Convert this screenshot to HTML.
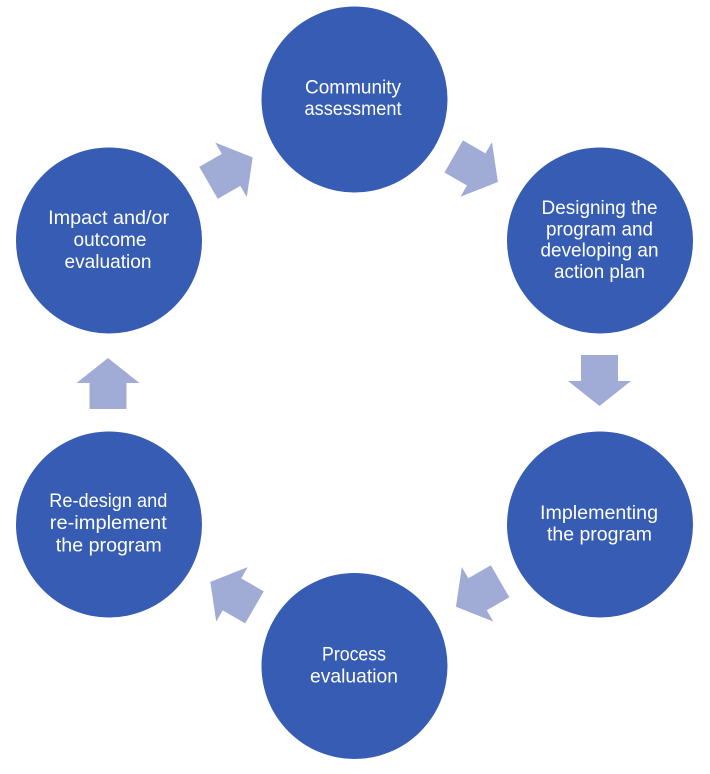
<!DOCTYPE html>
<html>
<head>
<meta charset="utf-8">
<style>
  html, body { margin: 0; padding: 0; background: #ffffff; }
  body { width: 710px; height: 774px; overflow: hidden; }
  svg { display: block; }
  text { font-family: "Liberation Sans", "DejaVu Sans", sans-serif; font-size: 19.5px; fill: #ffffff; }
</style>
</head>
<body>
<svg width="710" height="774" viewBox="0 0 710 774" xmlns="http://www.w3.org/2000/svg">
  <defs>
    <polygon id="arr" points="-25.5,-18.5 0.5,-18.5 0.5,-31.5 25.5,0 0.5,31.5 0.5,18.5 -25.5,18.5" fill="#a1acd6"/>
  </defs>

  <!-- arrows -->
  <use href="#arr" transform="translate(475.8,169.2) rotate(30)"/>
  <use href="#arr" transform="translate(599.5,380.5) rotate(90)"/>
  <use href="#arr" transform="translate(478,594) rotate(150)"/>
  <use href="#arr" transform="translate(232.4,594.6) rotate(210)"/>
  <use href="#arr" transform="translate(108,383.5) rotate(270)"/>
  <use href="#arr" transform="translate(230.6,170.1) rotate(330)"/>

  <!-- circles -->
  <circle cx="354.5" cy="99.5" r="93" fill="#365cb4"/>
  <circle cx="600" cy="240.5" r="93" fill="#365cb4"/>
  <circle cx="600" cy="524.5" r="93" fill="#365cb4"/>
  <circle cx="354.5" cy="666" r="93" fill="#365cb4"/>
  <circle cx="109" cy="524.5" r="93" fill="#365cb4"/>
  <circle cx="109" cy="240.5" r="93" fill="#365cb4"/>

  <!-- labels -->
  <text x="353" y="93.5" text-anchor="middle" textLength="96" lengthAdjust="spacingAndGlyphs">Community</text>
  <text x="353" y="115" text-anchor="middle" textLength="97" lengthAdjust="spacingAndGlyphs">assessment</text>

  <text x="599.5" y="214" text-anchor="middle" textLength="116" lengthAdjust="spacingAndGlyphs">Designing the</text>
  <text x="599.5" y="235.3" text-anchor="middle" textLength="107" lengthAdjust="spacingAndGlyphs">program and</text>
  <text x="599.5" y="256.7" text-anchor="middle" textLength="118" lengthAdjust="spacingAndGlyphs">developing an</text>
  <text x="599.5" y="278" text-anchor="middle" textLength="91" lengthAdjust="spacingAndGlyphs">action plan</text>

  <text x="599" y="519" text-anchor="middle" textLength="118" lengthAdjust="spacingAndGlyphs">Implementing</text>
  <text x="599.5" y="540.7" text-anchor="middle" textLength="105" lengthAdjust="spacingAndGlyphs">the program</text>

  <text x="354" y="660.5" text-anchor="middle" textLength="64" lengthAdjust="spacingAndGlyphs">Process</text>
  <text x="354" y="682.5" text-anchor="middle" textLength="88" lengthAdjust="spacingAndGlyphs">evaluation</text>

  <text x="108.3" y="507" text-anchor="middle" textLength="118" lengthAdjust="spacingAndGlyphs">Re-design and</text>
  <text x="108.3" y="529" text-anchor="middle" textLength="117" lengthAdjust="spacingAndGlyphs">re-implement</text>
  <text x="108.8" y="551.5" text-anchor="middle" textLength="106" lengthAdjust="spacingAndGlyphs">the program</text>

  <text x="108.6" y="224" text-anchor="middle" textLength="121" lengthAdjust="spacingAndGlyphs">Impact and/or</text>
  <text x="110" y="246" text-anchor="middle" textLength="73" lengthAdjust="spacingAndGlyphs">outcome</text>
  <text x="108" y="268" text-anchor="middle" textLength="87" lengthAdjust="spacingAndGlyphs">evaluation</text>
</svg>
</body>
</html>
